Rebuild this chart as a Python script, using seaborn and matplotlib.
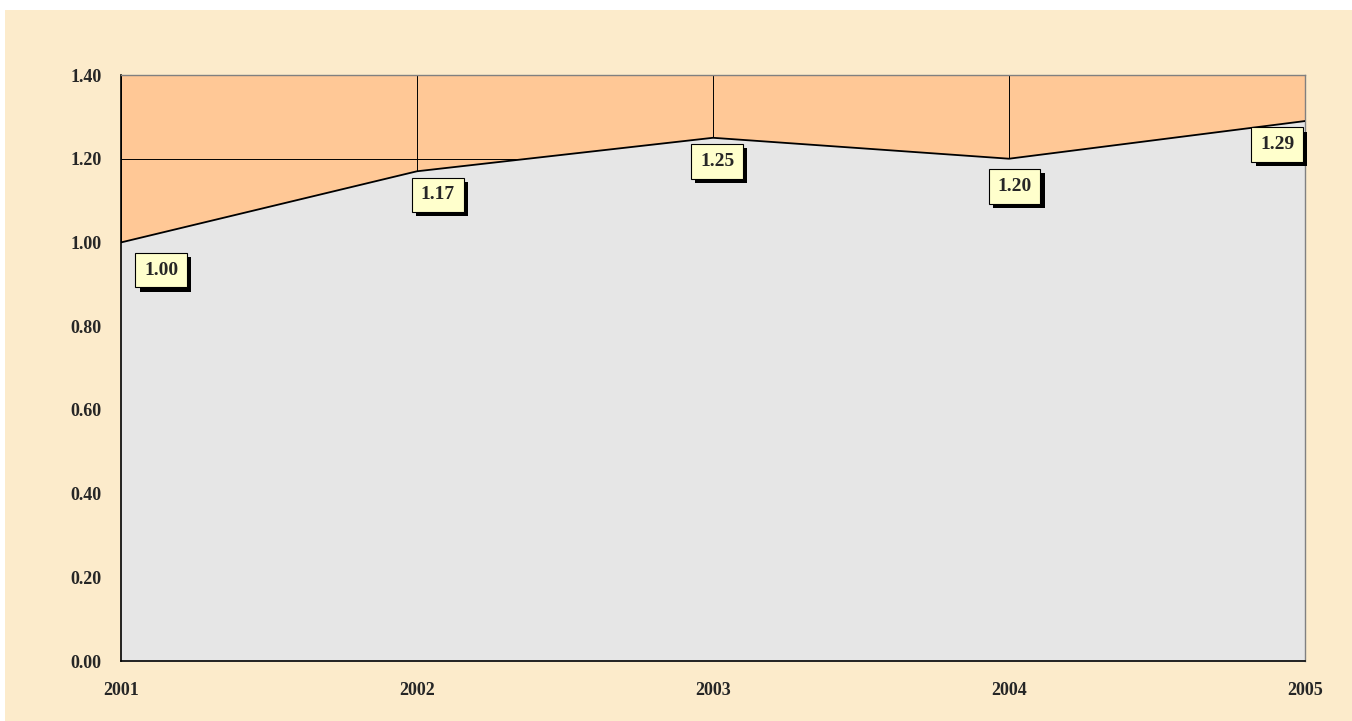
import matplotlib
matplotlib.use('Agg')
import matplotlib.pyplot as plt
import matplotlib.patheffects as pe
import seaborn as sns
import pandas as pd

years = [2001, 2002, 2003, 2004, 2005]
values = [1.00, 1.17, 1.25, 1.20, 1.29]
y_ticks = [0.0, 0.2, 0.4, 0.6, 0.8, 1.0, 1.2, 1.4]

df = pd.DataFrame({'year': years, 'value': values})

sns.set_style('white')
plt.rcParams['font.family'] = ['Liberation Serif', 'DejaVu Serif']
plt.rcParams['font.weight'] = 'bold'

fig = plt.figure(figsize=(13.52, 7.21), dpi=100)
fig.patch.set_facecolor('white')
# beige panel behind the chart (the top strip stays white)
fig.add_artist(plt.Rectangle((5 / 1352, 0), 1, 1 - 10 / 721, transform=fig.transFigure,
                             facecolor='#FCEBCB', edgecolor='none', zorder=-10))

ax = fig.add_axes([121 / 1352, 1 - 661 / 721, (1305 - 121) / 1352, (661 - 75) / 721])
ax.set_facecolor('#FFC896')

# gridlines sit under the grey area
ax.set_axisbelow(True)
ax.grid(True, color='black', linewidth=0.7)

ax.fill_between(df['year'], df['value'], 0, color='#E6E6E6', zorder=2)
sns.lineplot(data=df, x='year', y='value', ax=ax, color='black', linewidth=1.3, zorder=3)

ax.set_xlim(years[0], years[-1])
ax.set_ylim(0, 1.4)
ax.set_xticks(years)
ax.set_yticks(y_ticks)
ax.set_yticklabels([f'{t:.2f}' for t in y_ticks])
ax.set_xlabel('')
ax.set_ylabel('')
ax.tick_params(axis='both', direction='out', length=5, width=1, color='black',
               labelsize=13)
ax.tick_params(axis='x', pad=10)
ax.tick_params(axis='y', pad=9)
for lab in ax.get_xticklabels() + ax.get_yticklabels():
    lab.set_fontweight('bold')

for side in ['left', 'bottom']:
    ax.spines[side].set_color('black')
    ax.spines[side].set_linewidth(1.2)
for side in ['top', 'right']:
    ax.spines[side].set_color('#808080')
    ax.spines[side].set_linewidth(1)

# data labels: yellow boxes with a black drop shadow, placed below the points
label_offsets = {0: (29, -20), 1: (15, -17), 2: (3, -17), 3: (4, -20), 4: (-20, -17)}
for i, (x, y) in enumerate(zip(years, values)):
    t = ax.annotate(f'{y:.2f}', xy=(x, y), xytext=label_offsets[i],
                    textcoords='offset points', ha='center', va='center',
                    fontsize=14, fontweight='bold', zorder=5, annotation_clip=False,
                    bbox=dict(boxstyle='square,pad=0.45', facecolor='#FFFFCC',
                              edgecolor='black', linewidth=0.8))
    t.get_bbox_patch().set_path_effects([
        pe.SimplePatchShadow(offset=(3, -3), shadow_rgbFace='black', alpha=1),
        pe.Normal()])

fig.savefig('out.png', dpi=100)
